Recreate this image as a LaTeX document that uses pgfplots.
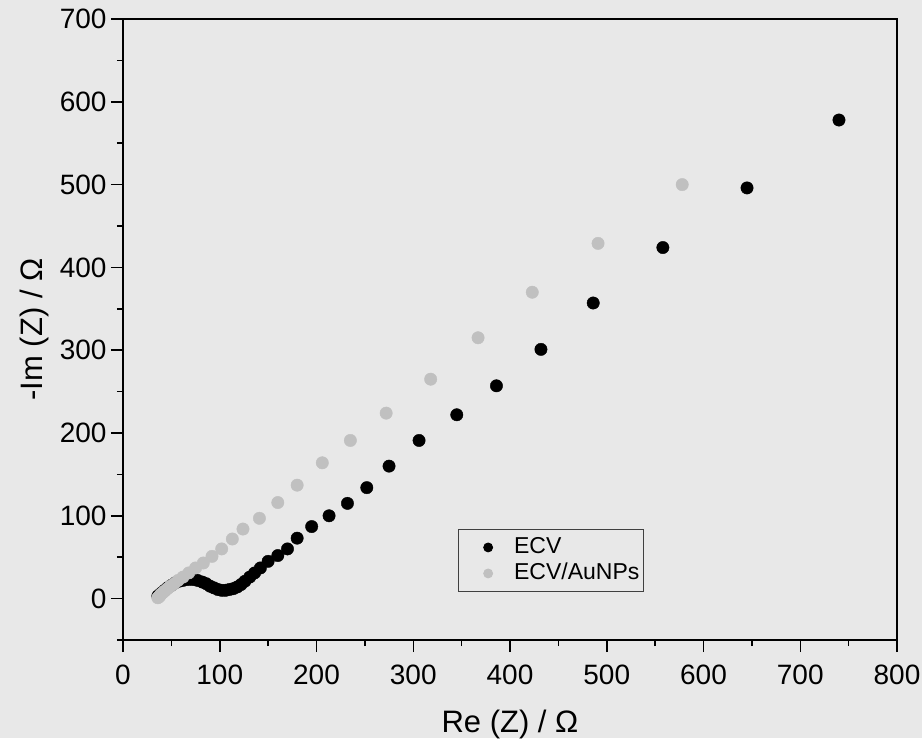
\documentclass[border=0pt]{standalone}
\usepackage{fontspec}
\setmainfont{Liberation Sans}
\usepackage{pgfplots}
\pgfplotsset{compat=1.18}
\usetikzlibrary{backgrounds}
\definecolor{bg}{HTML}{E8E8E8}
\definecolor{lgray}{HTML}{C0C0C0}
\pgfplotsset{myleg/.style={legend image code/.code={\path[draw=none,fill=none,mark=none] (0bp,-4bp) rectangle (52bp,4bp);\draw[mark repeat=2,mark phase=2,##1,mark size=4.5bp] plot coordinates {(0bp,0bp) (28bp,0bp) (52bp,0bp)};}}}
\begin{document}
\begin{tikzpicture}
\begin{axis}[
  scale only axis, width=774bp, height=621bp,
  xmin=0, xmax=800, ymin=-50, ymax=700,
  xtick={0,100,...,800}, ytick={0,100,...,700},
  minor xtick={50,150,...,750}, minor ytick={-50,50,...,650},
  xtick pos=bottom, ytick pos=left, tick align=outside,
  major tick length=12bp, minor tick length=6bp,
  axis line style={line width=1.5bp},
  tick style={line width=1.5bp, black},
  /pgf/number format/assume math mode=true,
  /pgf/number format/1000 sep={},
  tick label style={font=\fontsize{28bp}{33bp}\selectfont},
  xticklabel style={anchor=north, yshift=-9bp},
  yticklabel style={anchor=east, xshift=-1bp},
  label style={font=\fontsize{31bp}{36bp}\selectfont},
  xlabel={Re (Z) / Ω},
  ylabel={-Im (Z) / Ω},
  xlabel style={at={(axis description cs:0.5,0)}, anchor=base, yshift=-92bp},
  ylabel style={at={(axis description cs:0,0.5)}, anchor=base, yshift=80bp},
  legend style={at={(axis cs:346,84)}, anchor=north west, draw=black!75, line width=0.8bp, fill=none,
    font=\fontsize{23bp}{26bp}\selectfont, inner xsep=2bp, inner ysep=5bp,
    row sep=0bp,
    nodes={inner xsep=2bp, inner ysep=3bp, text height=16bp, text depth=4bp}},
  legend cell align=left,
]
\coordinate (bl) at (rel axis cs:0,0);
\coordinate (tr) at (rel axis cs:1,1);
\addplot[only marks, mark=*, mark size=6.2bp, black, mark options={draw=black, fill=black}, myleg] coordinates {
(36,3) (38,5) (40,7) (43,10) (46,13) (50,16) (54,19) (58,21) (62,22) (67,23)
(72,23) (77,22) (82,20) (86,18) (90,15) (94,13) (98,11) (102,10) (106,10) (110,11)
(114,12) (118,14) (122,17) (126,21) (131,26) (136,31) (142,37) (150,45) (160,52) (170,60)
(180,73) (195,87) (213,100) (232,115) (252,134) (275,160) (306,191) (345,222) (386,257) (432,301)
(486,357) (558,424) (645,496) (740,578)
};
\addlegendentry{ECV}
\addplot[only marks, mark=*, mark size=6.2bp, lgray, mark options={draw=lgray, fill=lgray}, myleg] coordinates {
(36,1) (37,2) (38,3) (39,5) (41,7) (43,9) (46,12) (49,15) (53,18) (57,22)
(62,26) (68,31) (75,37) (83,43) (92,51) (102,60) (113,72) (124,84) (141,97) (160,116)
(180,137) (206,164) (235,191) (272,224) (318,265) (367,315) (423,370) (491,429) (578,500)
};
\addlegendentry{ECV/AuNPs}
\end{axis}
\pgfresetboundingbox
\path[use as bounding box] ([shift={(-123bp,-98bp)}]bl) rectangle ([shift={(25bp,19bp)}]tr);
\begin{scope}[on background layer]
\fill[bg] ([shift={(-123bp,-98bp)}]bl) rectangle ([shift={(25bp,19bp)}]tr);
\end{scope}
\end{tikzpicture}
\end{document}
